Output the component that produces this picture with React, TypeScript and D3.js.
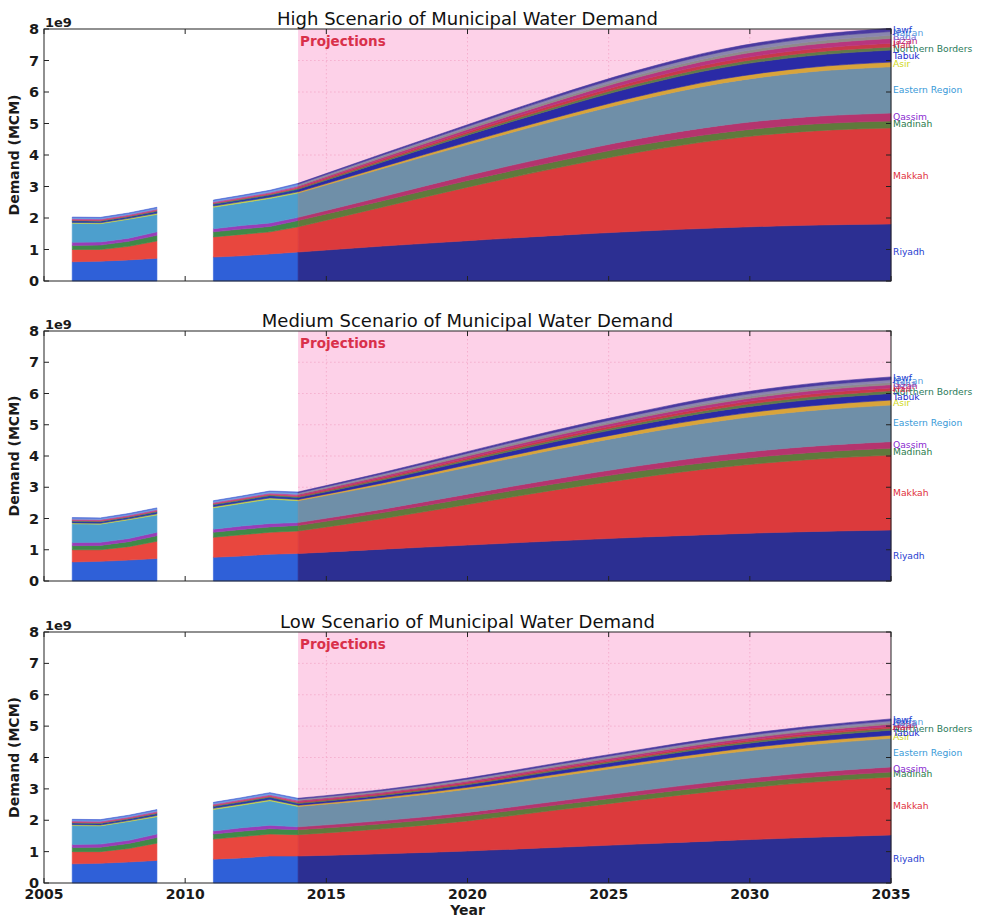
import React from 'react';
import * as d3 from 'd3';

// Regions, stacked bottom to top
const REGIONS = [
  'Riyadh', 'Makkah', 'Madinah', 'Qassim', 'Eastern Region', 'Asir', 'Tabuk',
  'Northern Borders', 'Hail', 'Jazan', 'Baha', 'Najran', 'Jawf',
];

const HIST_YEARS = [2006, 2007, 2008, 2009, 2011, 2012, 2013];
const PROJ_YEARS = [2014, 2017, 2020, 2023, 2026, 2029, 2032, 2035];

// Recorded municipal demand (1e9 m³), one row per region, columns follow HIST_YEARS
const HIST = [
  [0.61, 0.63, 0.67, 0.72, 0.76, 0.80, 0.86],
  [0.39, 0.37, 0.43, 0.55, 0.64, 0.68, 0.70],
  [0.13, 0.14, 0.16, 0.18, 0.16, 0.17, 0.17],
  [0.10, 0.10, 0.10, 0.11, 0.10, 0.11, 0.11],
  [0.60, 0.58, 0.60, 0.55, 0.68, 0.72, 0.78],
  [0.03, 0.03, 0.03, 0.04, 0.04, 0.04, 0.04],
  [0.05, 0.05, 0.05, 0.06, 0.06, 0.06, 0.07],
  [0.015, 0.015, 0.015, 0.02, 0.02, 0.02, 0.02],
  [0.02, 0.02, 0.02, 0.02, 0.02, 0.03, 0.03],
  [0.03, 0.03, 0.03, 0.03, 0.03, 0.03, 0.03],
  [0.015, 0.015, 0.015, 0.02, 0.02, 0.02, 0.02],
  [0.02, 0.02, 0.02, 0.02, 0.02, 0.02, 0.03],
  [0.02, 0.02, 0.02, 0.02, 0.02, 0.02, 0.02],
];

// Projected demand (1e9 m³), one row per region, columns follow PROJ_YEARS
const HIGH = [
  [0.92, 1.11, 1.28, 1.44, 1.58, 1.69, 1.77, 1.81],
  [0.80, 1.24, 1.70, 2.12, 2.50, 2.80, 2.98, 3.05],
  [0.20, 0.20, 0.21, 0.21, 0.22, 0.22, 0.22, 0.22],
  [0.10, 0.13, 0.16, 0.19, 0.21, 0.23, 0.24, 0.25],
  [0.77, 0.89, 0.98, 1.10, 1.22, 1.34, 1.42, 1.47],
  [0.04, 0.06, 0.08, 0.10, 0.12, 0.13, 0.14, 0.15],
  [0.08, 0.15, 0.22, 0.28, 0.33, 0.36, 0.37, 0.38],
  [0.03, 0.04, 0.05, 0.06, 0.08, 0.09, 0.10, 0.10],
  [0.03, 0.045, 0.06, 0.08, 0.09, 0.10, 0.11, 0.12],
  [0.04, 0.055, 0.07, 0.09, 0.11, 0.13, 0.14, 0.15],
  [0.03, 0.04, 0.05, 0.06, 0.07, 0.08, 0.09, 0.10],
  [0.03, 0.04, 0.05, 0.07, 0.08, 0.10, 0.11, 0.12],
  [0.03, 0.04, 0.05, 0.06, 0.07, 0.08, 0.09, 0.10],
];

const MEDIUM = [
  [0.88, 1.02, 1.15, 1.28, 1.40, 1.50, 1.58, 1.63],
  [0.72, 0.98, 1.30, 1.62, 1.90, 2.14, 2.30, 2.40],
  [0.18, 0.19, 0.20, 0.20, 0.21, 0.21, 0.22, 0.22],
  [0.09, 0.11, 0.13, 0.15, 0.17, 0.19, 0.20, 0.21],
  [0.70, 0.78, 0.86, 0.94, 1.02, 1.09, 1.14, 1.17],
  [0.04, 0.06, 0.08, 0.10, 0.12, 0.14, 0.15, 0.16],
  [0.06, 0.09, 0.12, 0.15, 0.17, 0.19, 0.20, 0.21],
  [0.03, 0.04, 0.05, 0.06, 0.07, 0.08, 0.09, 0.09],
  [0.03, 0.04, 0.05, 0.06, 0.07, 0.08, 0.09, 0.09],
  [0.04, 0.05, 0.06, 0.07, 0.08, 0.09, 0.10, 0.10],
  [0.02, 0.03, 0.04, 0.05, 0.05, 0.06, 0.07, 0.07],
  [0.03, 0.04, 0.05, 0.06, 0.07, 0.08, 0.08, 0.09],
  [0.03, 0.04, 0.05, 0.06, 0.07, 0.08, 0.08, 0.09],
];

const LOW = [
  [0.86, 0.93, 1.02, 1.13, 1.24, 1.35, 1.45, 1.53],
  [0.68, 0.80, 0.96, 1.18, 1.40, 1.60, 1.75, 1.85],
  [0.16, 0.16, 0.16, 0.16, 0.16, 0.16, 0.16, 0.16],
  [0.09, 0.10, 0.11, 0.12, 0.13, 0.14, 0.15, 0.16],
  [0.65, 0.69, 0.74, 0.79, 0.83, 0.87, 0.89, 0.91],
  [0.04, 0.05, 0.06, 0.07, 0.08, 0.09, 0.10, 0.10],
  [0.05, 0.06, 0.08, 0.10, 0.12, 0.14, 0.15, 0.16],
  [0.03, 0.03, 0.035, 0.04, 0.045, 0.05, 0.055, 0.06],
  [0.03, 0.03, 0.035, 0.04, 0.045, 0.05, 0.055, 0.06],
  [0.04, 0.04, 0.045, 0.05, 0.055, 0.06, 0.065, 0.07],
  [0.02, 0.025, 0.03, 0.035, 0.04, 0.04, 0.045, 0.05],
  [0.025, 0.03, 0.035, 0.04, 0.045, 0.05, 0.055, 0.06],
  [0.025, 0.03, 0.035, 0.04, 0.045, 0.05, 0.055, 0.06],
];

const SCENARIOS = ['High', 'Medium', 'Low'];
const SCENARIO_DATA = [HIGH, MEDIUM, LOW];
const Y_TICKS = [0, 1, 2, 3, 4, 5, 6, 7, 8];
const X_TICKS = [2005, 2010, 2015, 2020, 2025, 2030, 2035];

const HIST_COLORS = [
  '#2f60d8', '#e8473e', '#3f8a48', '#9a3cb8', '#4d9fcd', '#c9d046', '#2b3aa8',
  '#3f8a60', '#d24a4a', '#c3469a', '#8a86c8', '#6aa8e8', '#5870d8',
];
const PROJ_COLORS = [
  '#2c2f92', '#dc3a3c', '#5f7a3c', '#b5346e', '#6f8fa8', '#d9a43a', '#2a2aa6',
  '#627a48', '#c8384a', '#b8357e', '#8f8a8a', '#8a86ae', '#4a3aa0',
];
const LABEL_COLORS = [
  '#1f3ed0', '#e0303c', '#2a7a4a', '#8a2ad0', '#3a9ad8', '#d0d820', '#1a2ad0',
  '#2a7a5a', '#d02840', '#c02070', '#7a6ad8', '#5aa0e0', '#1a3ad0',
];

const X0 = 44;
const X1 = 891;
const PANELS = [
  { top: 29, bottom: 281 },
  { top: 331, bottom: 581 },
  { top: 632, bottom: 883 },
];
const FONT = 'DejaVu Sans, Verdana, sans-serif';

type Row = { year: number; [k: string]: number };

function buildRows(years: number[], matrix: number[][], cols: number[]): Row[] {
  return cols.map((c, j) => {
    const row: Row = { year: years[j] };
    REGIONS.forEach((r, i) => {
      row[r] = matrix[i][c];
    });
    return row;
  });
}

function Panel({ index }: { index: number }) {
  const { top, bottom } = PANELS[index];
  const proj = SCENARIO_DATA[index];
  const x = d3.scaleLinear().domain([2005, 2035]).range([X0, X1]);
  const y = d3.scaleLinear().domain([0, 8]).range([bottom, top]);
  const stack = d3.stack<Row>().keys(REGIONS);

  // 2006-2009, then 2011-2013 joined to the first projected year
  const segA = buildRows(HIST_YEARS.slice(0, 4), HIST, [0, 1, 2, 3]);
  const segB = [
    ...buildRows(HIST_YEARS.slice(4), HIST, [4, 5, 6]),
    ...buildRows([PROJ_YEARS[0]], proj, [0]),
  ];
  const segC = buildRows(PROJ_YEARS, proj, PROJ_YEARS.map((_, j) => j));

  const areaLinear = d3
    .area<d3.SeriesPoint<Row>>()
    .x((d) => x(d.data.year))
    .y0((d) => y(d[0]))
    .y1((d) => y(d[1]));
  const areaSmooth = d3
    .area<d3.SeriesPoint<Row>>()
    .x((d) => x(d.data.year))
    .y0((d) => y(d[0]))
    .y1((d) => y(d[1]))
    .curve(d3.curveMonotoneX);

  const stA = stack(segA);
  const stB = stack(segB);
  const stC = stack(segC);

  const pinkX = x(2014);
  const last = stC.map((s) => s[s.length - 1]);

  return (
    <g>
      {/* projection period band */}
      <rect x={pinkX} y={top} width={X1 - pinkX} height={bottom - top} fill="#fdd1e8" />
      {Y_TICKS.slice(1, -1).map((t) => (
        <line key={'gy' + t} x1={pinkX} x2={X1} y1={y(t)} y2={y(t)} stroke="#f2a6c6" strokeWidth={0.8} strokeDasharray="1.5,2.5" />
      ))}
      {X_TICKS.filter((t) => t > 2014 && t < 2035).map((t) => (
        <line key={'gx' + t} x1={x(t)} x2={x(t)} y1={top} y2={bottom} stroke="#f2a6c6" strokeWidth={0.8} strokeDasharray="1.5,2.5" />
      ))}

      {stA.map((s, i) => (
        <path key={'a' + i} d={areaLinear(s) || ''} fill={HIST_COLORS[i]} stroke={HIST_COLORS[i]} strokeWidth={0.6} />
      ))}
      {stB.map((s, i) => (
        <path key={'b' + i} d={areaLinear(s) || ''} fill={HIST_COLORS[i]} stroke={HIST_COLORS[i]} strokeWidth={0.6} />
      ))}
      {stC.map((s, i) => (
        <path key={'c' + i} d={areaSmooth(s) || ''} fill={PROJ_COLORS[i]} stroke={PROJ_COLORS[i]} strokeWidth={0.6} />
      ))}

      <text x={pinkX + 2} y={top + 17} fill="#d9304a" fontFamily={FONT} fontWeight="bold" fontSize={13.5}>
        Projections
      </text>

      {/* frame and ticks */}
      <rect x={X0} y={top} width={X1 - X0} height={bottom - top} fill="none" stroke="#222" strokeWidth={1} />
      {Y_TICKS.map((t) => (
        <g key={'yt' + t}>
          <line x1={X0} x2={X0 + 5} y1={y(t)} y2={y(t)} stroke="#222" />
          <line x1={X1 - 5} x2={X1} y1={y(t)} y2={y(t)} stroke="#222" />
          <text x={X0 - 5} y={y(t) + 5} textAnchor="end" fontFamily={FONT} fontWeight="bold" fontSize={14.5} fill="#1a1a1a">
            {t}
          </text>
        </g>
      ))}
      {X_TICKS.map((t) => (
        <g key={'xt' + t}>
          <line x1={x(t)} x2={x(t)} y1={bottom} y2={bottom - 5} stroke="#222" />
          <line x1={x(t)} x2={x(t)} y1={top} y2={top + 5} stroke="#222" />
          {index === 2 && (
            <text x={x(t)} y={bottom + 16} textAnchor="middle" fontFamily={FONT} fontWeight="bold" fontSize={14} fill="#1a1a1a">
              {t}
            </text>
          )}
        </g>
      ))}

      <text x={X0 + 1} y={top - 2} fontFamily={FONT} fontWeight="bold" fontSize={13} fill="#1a1a1a">
        1e9
      </text>
      <text
        transform={`translate(19,${(top + bottom) / 2}) rotate(-90)`}
        textAnchor="middle"
        fontFamily={FONT}
        fontWeight="bold"
        fontSize={14}
        fill="#1a1a1a"
      >
        Demand (MCM)
      </text>
      <text x={(X0 + X1) / 2} y={top - 4} textAnchor="middle" fontFamily={FONT} fontSize={18} fill="#111">
        {SCENARIOS[index]} Scenario of Municipal Water Demand
      </text>

      {/* region names at the end of each band */}
      {last.map((p, i) => (
        <text
          key={'lab' + i}
          x={X1 + 2}
          y={y((p[0] + p[1]) / 2) + 3}
          fontFamily={FONT}
          fontSize={9.2}
          fill={LABEL_COLORS[i]}
        >
          {REGIONS[i]}
        </text>
      ))}
    </g>
  );
}

export default function App() {
  return (
    <svg
      width={982}
      height={920}
      viewBox="0 0 982 920"
      style={{ position: 'absolute', left: 0, top: 0, background: '#fff' }}
    >
      <rect width={982} height={920} fill="#fff" />
      {[0, 1, 2].map((i) => (
        <Panel key={i} index={i} />
      ))}
      <text x={(X0 + X1) / 2} y={915} textAnchor="middle" fontFamily={FONT} fontWeight="bold" fontSize={14} fill="#1a1a1a">
        Year
      </text>
    </svg>
  );
}
